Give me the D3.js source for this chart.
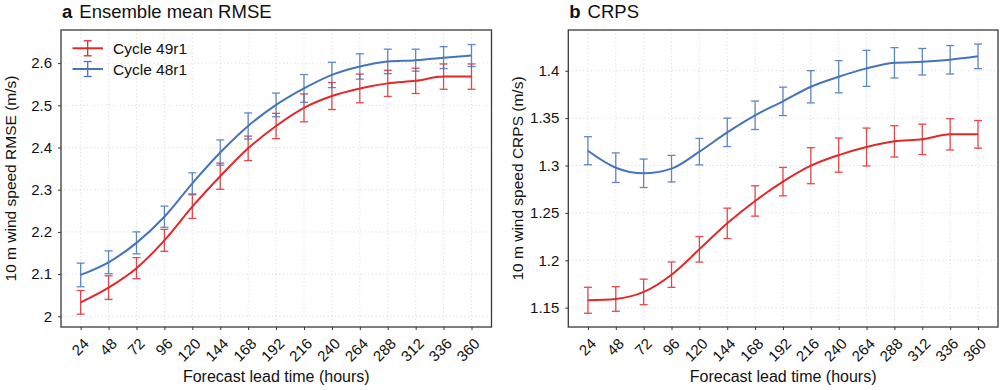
<!DOCTYPE html>
<html><head><meta charset="utf-8">
<script src="https://cdn.jsdelivr.net/npm/d3@7"></script>
<style>
body{margin:0;background:#fff;}
text{font-family:"Liberation Sans",Arial,Helvetica,sans-serif;fill:#111;}
</style></head><body>
<svg id="c" width="1000" height="390"></svg>
<script>
const leadTimes = [24,48,72,96,120,144,168,192,216,240,264,288,312,336,360];
const seriesNames = ["Cycle 49r1","Cycle 48r1"];
const rmse49 = [2.033,2.068,2.114,2.180,2.260,2.332,2.398,2.451,2.494,2.522,2.540,2.552,2.558,2.568,2.568];
const rmse49Err = [0.028,0.028,0.025,0.026,0.028,0.031,0.029,0.030,0.033,0.032,0.034,0.031,0.030,0.030,0.030];
const rmse48 = [2.098,2.128,2.174,2.236,2.315,2.388,2.451,2.501,2.540,2.572,2.592,2.604,2.607,2.613,2.618];
const rmse48Err = [0.028,0.027,0.026,0.025,0.025,0.030,0.031,0.028,0.033,0.030,0.030,0.029,0.026,0.026,0.026];
const crps49 = [1.1578,1.1592,1.1666,1.1848,1.2116,1.2390,1.2626,1.2830,1.2998,1.3110,1.3195,1.3255,1.3276,1.3329,1.3329];
const crps49Err = [0.0137,0.0130,0.0135,0.0134,0.0135,0.0160,0.0160,0.0150,0.0190,0.0180,0.0200,0.0165,0.0160,0.0165,0.0146];
const crps48 = [1.3156,1.2977,1.2918,1.2967,1.3146,1.3350,1.3530,1.3677,1.3831,1.3937,1.4025,1.4084,1.4095,1.4116,1.4152];
const crps48Err = [0.0148,0.0156,0.0150,0.0140,0.0140,0.0150,0.0150,0.0150,0.0170,0.0170,0.0190,0.0160,0.0140,0.0150,0.0130];
const rmseTicks = [2,2.1,2.2,2.3,2.4,2.5,2.6];
const crpsTicks = [1.15,1.2,1.25,1.3,1.35,1.4];
const colors = ["#e3282b","#4474bd"];

const svg = d3.select("#c");
const plotTop = 30, plotBottom = 327;

function panel(o){
  const g = svg.append("g");
  const x = d3.scaleLinear().domain([7.1,377.2]).range([o.left,o.right]);
  const y = d3.scaleLinear().domain(o.ydom).range([plotBottom,plotTop]);
  g.selectAll(".gx").data(leadTimes).join("line")
    .attr("x1",d=>x(d)).attr("x2",d=>x(d)).attr("y1",plotTop).attr("y2",plotBottom)
    .attr("stroke","#d4d4d4").attr("stroke-width",0.8).attr("stroke-dasharray","1.2,2.5");
  g.selectAll(".gy").data(o.ticks).join("line")
    .attr("x1",o.left).attr("x2",o.right).attr("y1",d=>y(d)).attr("y2",d=>y(d))
    .attr("stroke","#d4d4d4").attr("stroke-width",0.8).attr("stroke-dasharray","1.2,2.5");
  const xa = g.append("g").attr("transform",`translate(0,${plotBottom})`)
    .call(d3.axisBottom(x).tickValues(leadTimes).tickSize(3).tickPadding(4));
  xa.select(".domain").remove();
  xa.selectAll("line").attr("stroke","#333");
  xa.selectAll("text").attr("font-size",15).attr("text-anchor","end")
    .attr("x",0).attr("y",0).attr("dy","0.35em")
    .attr("transform","translate(5,14) rotate(-45)");
  const ya = g.append("g").attr("transform",`translate(${o.left},0)`)
    .call(d3.axisLeft(y).tickValues(o.ticks).tickSize(3).tickPadding(6).tickFormat(d3.format("")));
  ya.select(".domain").remove();
  ya.selectAll("line").attr("stroke","#333");
  ya.selectAll("text").attr("font-size",15);
  o.series.forEach((s,i)=>{
    const col = colors[i];
    const eb = g.append("g").attr("stroke",col).attr("stroke-width",1.3).attr("opacity",0.85);
    leadTimes.forEach((t,j)=>{
      const cx = x(t), y1 = y(s.v[j]+s.e[j]), y2 = y(s.v[j]-s.e[j]);
      eb.append("line").attr("x1",cx).attr("x2",cx).attr("y1",y1).attr("y2",y2);
      eb.append("line").attr("x1",cx-4).attr("x2",cx+4).attr("y1",y1).attr("y2",y1);
      eb.append("line").attr("x1",cx-4).attr("x2",cx+4).attr("y1",y2).attr("y2",y2);
    });
    g.append("path").datum(s.v)
      .attr("d",d3.line().x((d,j)=>x(leadTimes[j])).y(d=>y(d)).curve(d3.curveMonotoneX))
      .attr("fill","none").attr("stroke",col).attr("stroke-width",2);
  });
  g.append("rect").attr("x",o.left).attr("y",plotTop).attr("width",o.right-o.left).attr("height",plotBottom-plotTop)
    .attr("fill","none").attr("stroke","#3a3a3a").attr("stroke-width",1.3);
  const t = g.append("text").attr("x",o.left+1).attr("y",18).attr("font-size",18.5);
  t.append("tspan").attr("font-weight","bold").text(o.letter);
  t.append("tspan").attr("dx",7).text(o.title);
  g.append("text").attr("x",(o.left+o.right)/2).attr("y",382).attr("text-anchor","middle")
    .attr("font-size",16).text("Forecast lead time (hours)");
  g.append("text").attr("transform",`translate(${o.left-45},${(plotTop+plotBottom)/2}) rotate(-90)`)
    .attr("text-anchor","middle").attr("font-size",15.5).text(o.ylabel);
  return g;
}

panel({left:61,right:491.5,ydom:[1.9746,2.6785],ticks:rmseTicks,letter:"a",title:"Ensemble mean RMSE",
  ylabel:"10 m wind speed RMSE (m/s)",
  series:[{v:rmse49,e:rmse49Err},{v:rmse48,e:rmse48Err}]});
panel({left:568.3,right:998,ydom:[1.1296,1.443],ticks:crpsTicks,letter:"b",title:"CRPS",
  ylabel:"10 m wind speed CRPS (m/s)",
  series:[{v:crps49,e:crps49Err},{v:crps48,e:crps48Err}]});

const lg = svg.append("g");
seriesNames.forEach((n,i)=>{
  const yy = 48.3 + i*20.7;
  const col = colors[i];
  lg.append("line").attr("x1",72.5).attr("x2",103).attr("y1",yy).attr("y2",yy).attr("stroke",col).attr("stroke-width",2);
  lg.append("line").attr("x1",87.7).attr("x2",87.7).attr("y1",yy-7.5).attr("y2",yy+7.5).attr("stroke",col).attr("stroke-width",1.3);
  lg.append("line").attr("x1",83.7).attr("x2",91.7).attr("y1",yy-7.5).attr("y2",yy-7.5).attr("stroke",col).attr("stroke-width",1.3);
  lg.append("line").attr("x1",83.7).attr("x2",91.7).attr("y1",yy+7.5).attr("y2",yy+7.5).attr("stroke",col).attr("stroke-width",1.3);
  lg.append("text").attr("x",113).attr("y",yy+5.5).attr("font-size",15.5).text(n);
});
</script></body></html>
